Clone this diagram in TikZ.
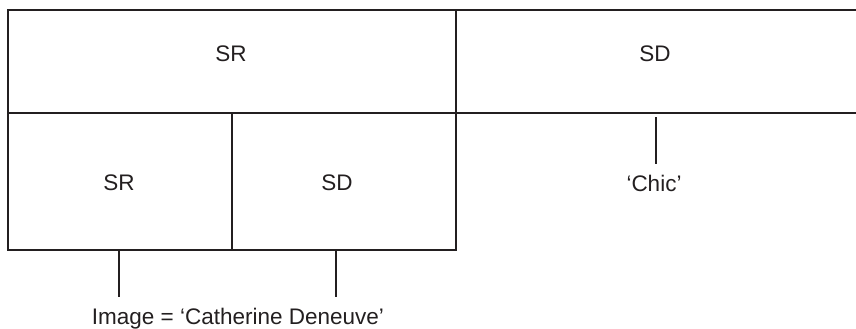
\documentclass[tikz,border=0pt]{standalone}
\usepackage{fontspec}
\setmainfont{Liberation Sans}
\begin{document}
\begin{tikzpicture}[x=1pt,y=-1pt,
  frame/.style={draw=ink,line width=2pt,line join=miter},
  leg/.style={draw=ink,line width=2pt},
  lbl/.style={anchor=base,inner sep=0pt,text=ink,font=\fontsize{22.5}{27}\selectfont}]
\definecolor{ink}{HTML}{231F20}
\useasboundingbox (0,0) rectangle (856,329);

% cell frame
\draw[frame] (856,10.5) -- (8,10.5) -- (8,250) -- (455.5,250) -- (455.5,10.5);
\draw[frame] (8,113) -- (856,113);
\draw[frame] (232,113) -- (232,250);

% cell labels
\node[lbl] (sr)    at (231,62)  {SR};
\node[lbl] (sd)    at (655,62)  {SD};
\node[lbl] (srsub) at (119,190) {SR};
\node[lbl] (sdsub) at (337,190) {SD};
\node[lbl] (chic)  at (654,191) {‘Chic’};
\node[lbl] (img)   at (238,324) {Image = ‘Catherine Deneuve’};

% legs
\coordinate (chictop) at (656,117);
\coordinate (chicend) at (656,164);
\coordinate (srtop) at (119,250);
\coordinate (srend) at (119,297);
\coordinate (sdtop) at (336,250);
\coordinate (sdend) at (336,297);
\draw[leg] (chictop) -- (chicend);
\draw[leg] (srtop) -- (srend);
\draw[leg] (sdtop) -- (sdend);
\end{tikzpicture}
\end{document}
